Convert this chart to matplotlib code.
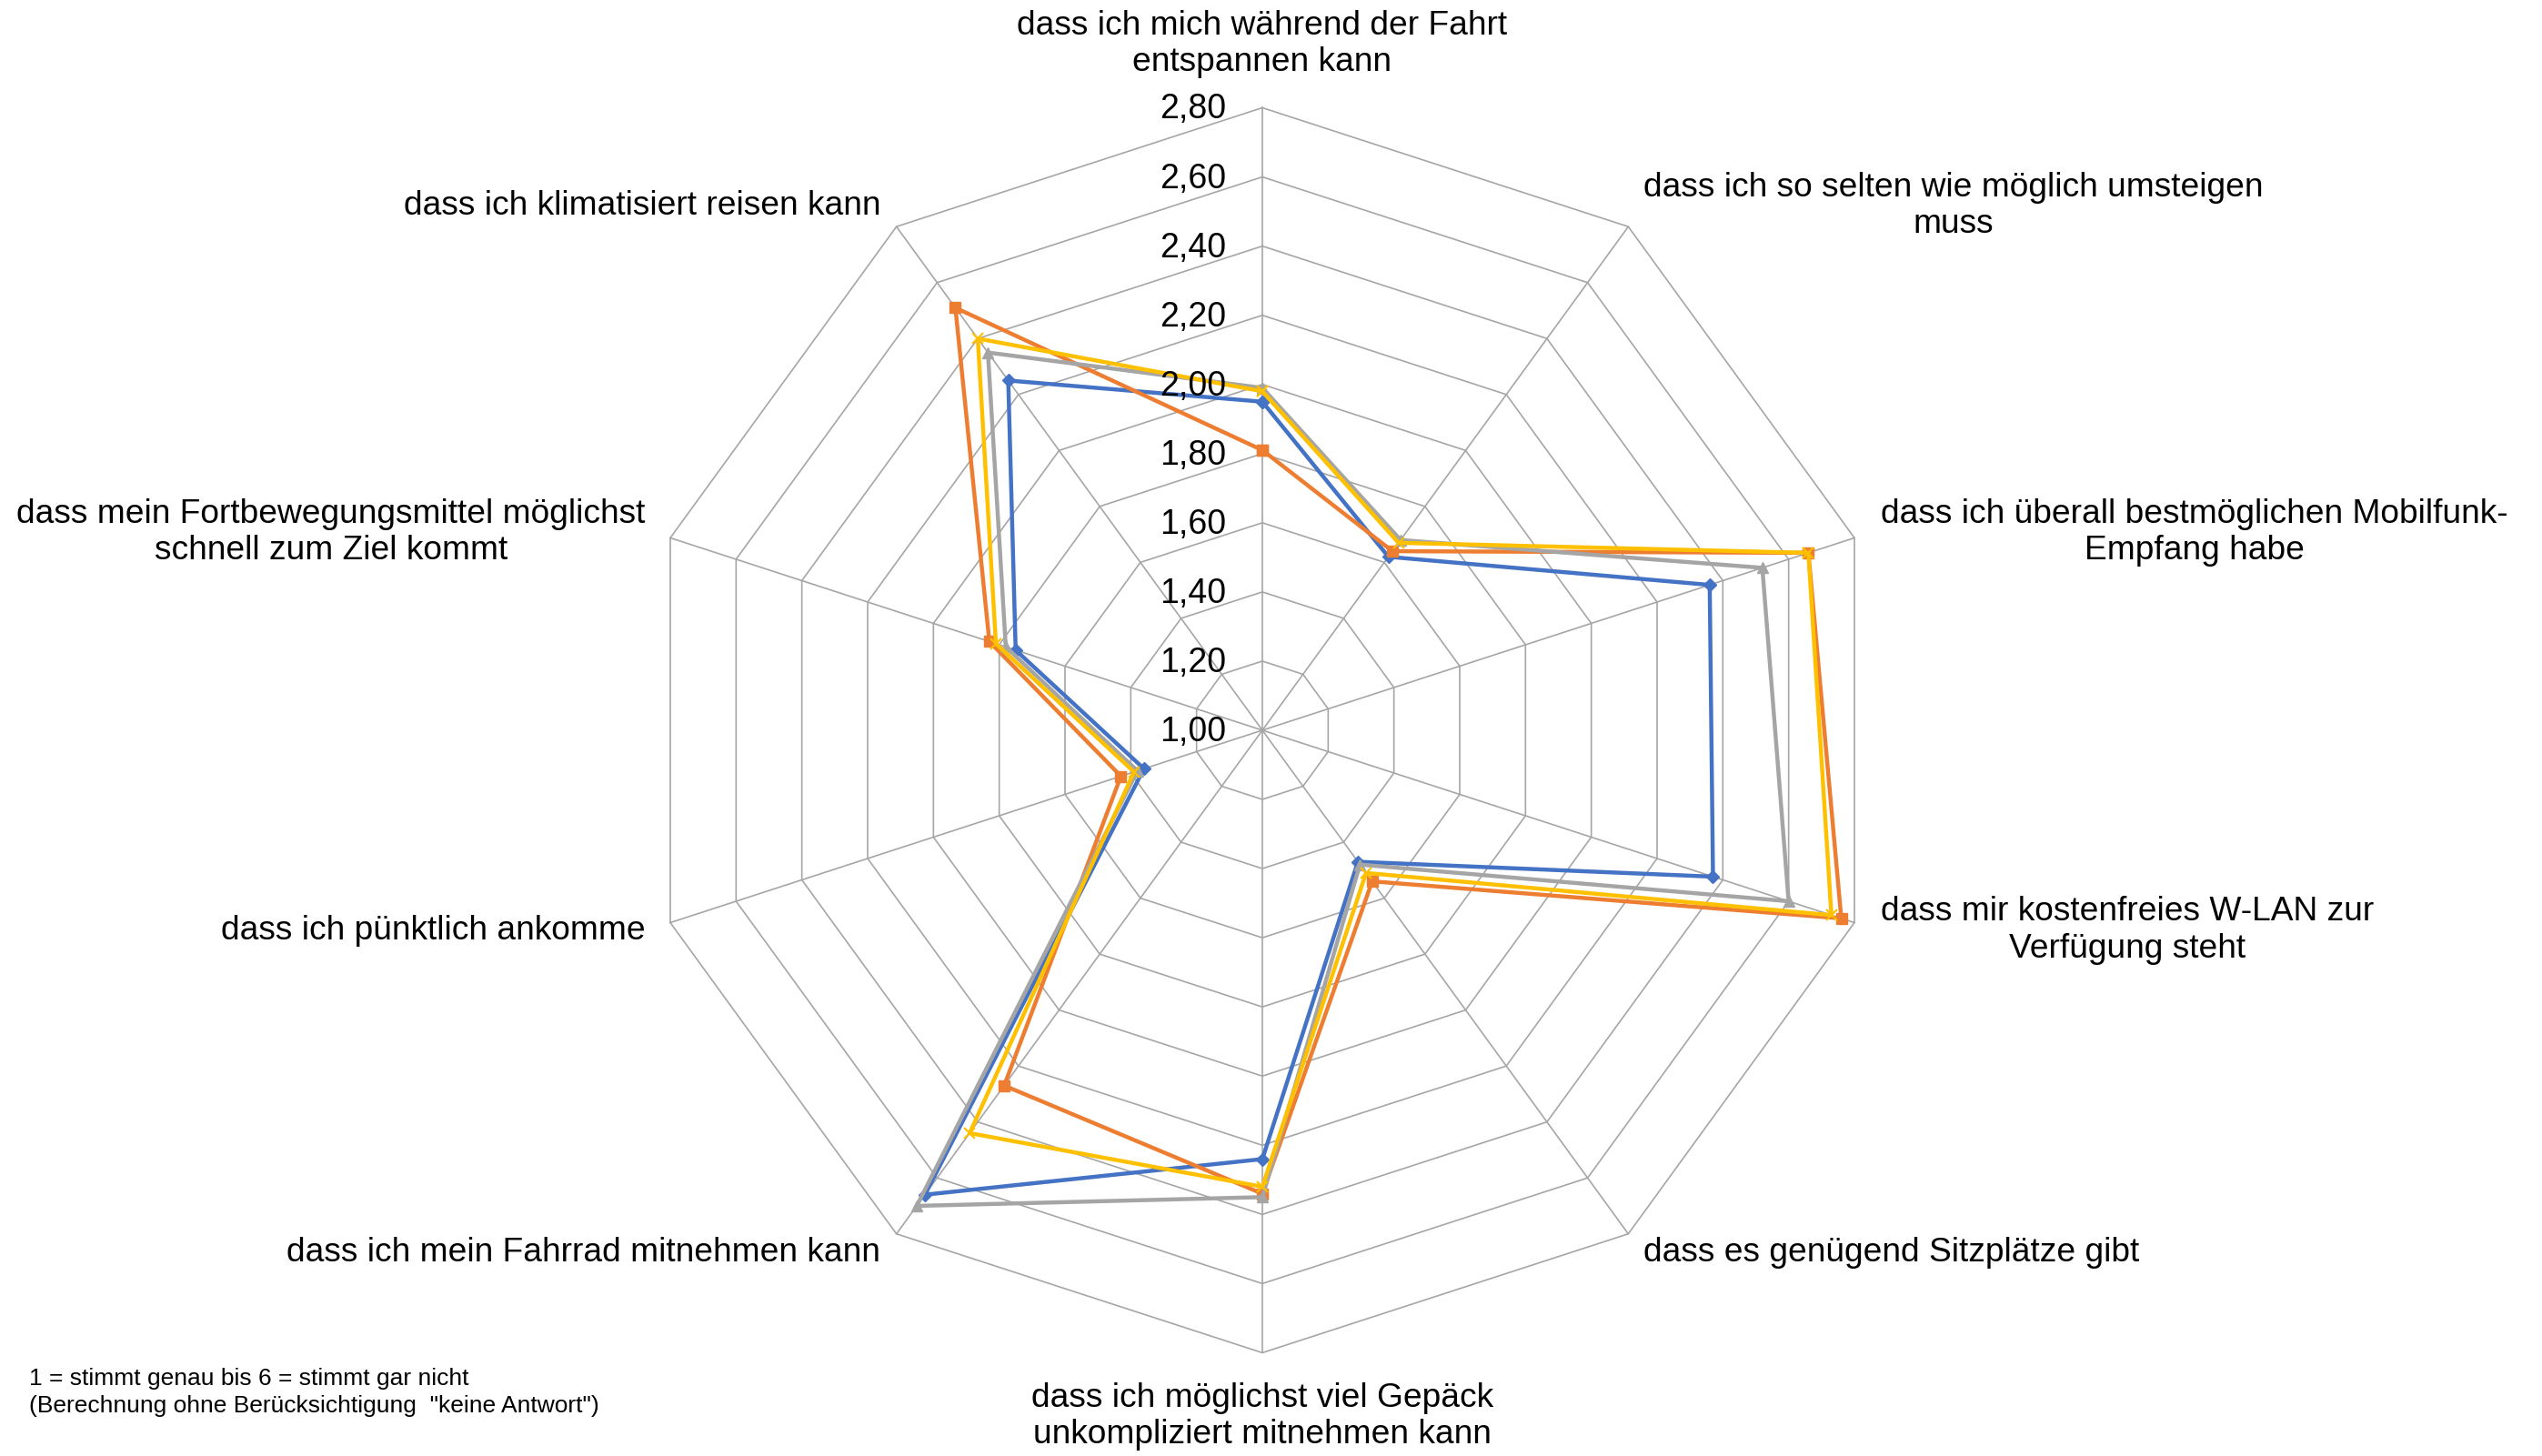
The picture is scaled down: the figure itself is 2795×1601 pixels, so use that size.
import matplotlib
matplotlib.use("Agg")
import matplotlib.pyplot as plt
import numpy as np

plt.rcParams['font.family'] = ['Liberation Sans', 'DejaVu Sans']

# categories, clockwise from the top
categories = [
	"dass ich mich während der Fahrt\nentspannen kann",
	"dass ich so selten wie möglich umsteigen\nmuss",
	"dass ich überall bestmöglichen Mobilfunk-\nEmpfang habe",
	"dass mir kostenfreies W-LAN zur\nVerfügung steht",
	"dass es genügend Sitzplätze gibt",
	"dass ich möglichst viel Gepäck\nunkompliziert mitnehmen kann",
	"dass ich mein Fahrrad mitnehmen kann",
	"dass ich pünktlich ankomme",
	"dass mein Fortbewegungsmittel möglichst\nschnell zum Ziel kommt",
	"dass ich klimatisiert reisen kann",
]

# series values (mean ratings)
blue_vals   = [1.95, 1.62, 2.36, 2.37, 1.47, 2.24, 2.66, 1.36, 1.75, 2.25]
orange_vals = [1.81, 1.64, 2.66, 2.76, 1.54, 2.34, 2.27, 1.43, 1.83, 2.51]
gray_vals   = [1.99, 1.68, 2.52, 2.60, 1.48, 2.35, 2.70, 1.38, 1.78, 2.35]
yellow_vals = [1.98, 1.67, 2.66, 2.73, 1.51, 2.32, 2.44, 1.39, 1.81, 2.40]

r_ticks = [1.00, 1.20, 1.40, 1.60, 1.80, 2.00, 2.20, 2.40, 2.60, 2.80]
footnote = '1 = stimmt genau bis 6 = stimmt gar nicht\n(Berechnung ohne Berücksichtigung  "keine Antwort")'

# figure & polar axes
fig = plt.figure(figsize=(27.95, 16.01), dpi=100)
ax = fig.add_axes([0.2517, 0.0709, 0.4898, 0.8551], projection='polar')
ax.set_theta_zero_location('N')
ax.set_theta_direction(-1)
ax.set_ylim(r_ticks[0], r_ticks[-1])
ax.axis('off')

n = len(categories)
theta = np.arange(n) * 2 * np.pi / n
theta_c = np.append(theta, theta[0])

grid_col = '#a6a6a6'
# polygon grid rings
for r in r_ticks[1:]:
	ax.plot(theta_c, [r] * (n + 1), color=grid_col, lw=1.2, zorder=1, clip_on=False)
# spokes
for t in theta:
	ax.plot([t, t], [r_ticks[0], r_ticks[-1]], color=grid_col, lw=1.2, zorder=1, clip_on=False)

# series
series = [
	(blue_vals,   '#4472C4', 'D', 7, 1.0),
	(orange_vals, '#ED7D31', 's', 9, 1.0),
	(gray_vals,   '#A5A5A5', '^', 9, 1.0),
	(yellow_vals, '#FFC000', 'x', 9, 1.5),
]
for i, (vals, col, mk, ms, mew) in enumerate(series):
	v = np.append(vals, vals[0])
	ax.plot(theta_c, v, color=col, lw=3.2, marker=mk, markersize=ms,
		markeredgewidth=mew, markeredgecolor=col, markerfacecolor=col,
		zorder=3 + i, clip_on=False)

# radial tick labels, left of the top spoke
px = 0.72  # pixels -> points at dpi 100
for r in r_ticks:
	ax.annotate(f"{r:.2f}".replace('.', ','), xy=(0, r), xytext=(-40 * px, -2 * px),
		textcoords='offset points', ha='right', va='center', fontsize=27, zorder=10)

# category labels around the outer ring (offsets in pixels)
label_pos = [
	((0, 70), 'center'),
	((17, 23), 'left'),
	((29, 6), 'left'),
	((29, -8.5), 'left'),
	((17, -21), 'left'),
	((0, -70), 'center'),
	((-17.5, -21), 'right'),
	((-27.5, -8.5), 'right'),
	((-27.5, 6), 'right'),
	((-17.5, 23), 'right'),
]
for t, lab, ((dx, dy), ha) in zip(theta, categories, label_pos):
	ax.annotate(lab, xy=(t, r_ticks[-1]), xytext=(dx * px, dy * px),
		textcoords='offset points', ha=ha, va='center', multialignment='center',
		fontsize=26.7, annotation_clip=False)

fig.text(32 / 2795, 1 - 1504 / 1601, footnote, ha='left', va='top', fontsize=19,
	family=['Liberation Sans Narrow', 'Liberation Sans'], linespacing=1.3)

fig.savefig('out.png', dpi=100)
